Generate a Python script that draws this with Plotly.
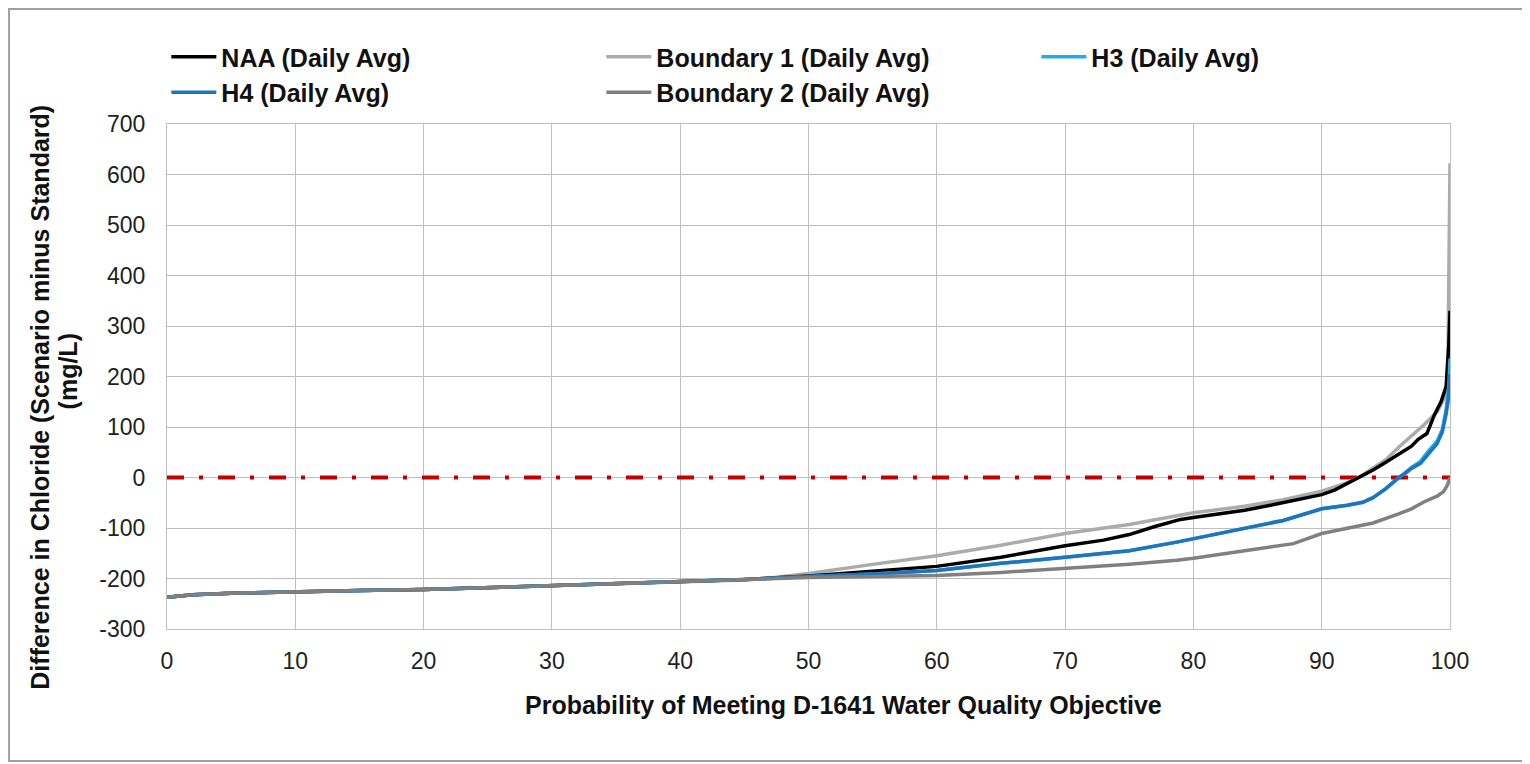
import plotly.graph_objects as go

# ---------------- data ----------------
x_labels = [0, 10, 20, 30, 40, 50, 60, 70, 80, 90, 100]
y_ticks = [-300, -200, -100, 0, 100, 200, 300, 400, 500, 600, 700]
y_tick_text = ["-300", "-200", "-100", "0", "100", "200", "300", "400", "500", "600", "700"]

early_x = [0, 2, 5, 10, 15, 20, 25, 30, 35, 40, 45]
early_y = [-237, -232, -229, -226, -224, -222, -218, -214, -210, -207, -202]

naa_x = early_x + [50, 55, 60, 65, 70, 73, 75, 77, 79, 80, 82, 84, 86, 88, 90, 91, 92, 93,
                   94, 95, 96, 97, 97.5, 98.2, 98.8, 99.3, 99.7, 99.9, 100]
naa_y = early_y + [-195, -186, -176, -158, -135, -124, -113, -97, -83, -79, -72, -65, -55, -44,
                   -34, -25, -12, 2, 15, 30, 47, 62, 75, 87, 125, 150, 180, 260, 330]

b1_x = early_x[:-1] + [45, 47, 50, 55, 60, 65, 70, 75, 80, 84, 87, 90, 92, 93, 94, 95, 96,
                       97, 98, 99, 99.4, 99.7, 99.85, 99.95, 100]
b1_y = early_y[:-1] + [-203, -199, -190, -172, -155, -134, -111, -93, -70, -57, -44, -27,
                       -10, 2, 18, 35, 60, 82, 105, 130, 150, 165, 250, 450, 622]

h3_x = early_x + [50, 55, 60, 65, 70, 75, 78.7, 80, 84, 87, 90, 92, 93.2, 94, 95, 96, 96.5,
                  97, 97.7, 98.3, 99, 99.4, 99.7, 99.9, 100]
h3_y = early_y + [-196, -191, -184, -170, -158, -145, -128, -121, -101, -85, -62, -55, -49,
                  -40, -22, 0, 10, 20, 32, 52, 72, 95, 135, 180, 235]

h4_x = early_x + [50, 55, 60, 65, 70, 75, 78.7, 80, 84, 87, 90, 92, 93.2, 94, 95, 96, 96.5,
                  97, 97.7, 98.3, 99, 99.4, 99.7, 99.9, 100]
h4_y = early_y + [-196, -191, -184, -170, -158, -145, -128, -121, -101, -85, -62, -55, -49,
                  -40, -22, 0, 8, 18, 28, 45, 67, 90, 126, 160, 205]

b2_x = early_x + [50, 55, 60, 65, 70, 75, 78.7, 80, 84, 87.8, 90, 92, 94, 96, 97, 98, 99,
                  99.5, 99.8, 100]
b2_y = early_y + [-198, -196, -194, -188, -180, -172, -164, -160, -145, -131, -111, -100,
                  -90, -72, -62, -48, -37, -28, -15, 0]

std_x = [0, 100]
std_y = [0, 0]

x_title = "Probability of Meeting D-1641 Water Quality Objective"
y_title_1 = "Difference in Chloride (Scenario minus Standard)"
y_title_2 = "(mg/L)"

# ---------------- figure ----------------
series = [
    ("Boundary 1 (Daily Avg)", b1_x, b1_y, "#ABABAB", 2),
    ("NAA (Daily Avg)", naa_x, naa_y, "#000000", 1),
    ("H3 (Daily Avg)", h3_x, h3_y, "#1EAEE6", 3),
    ("H4 (Daily Avg)", h4_x, h4_y, "#1F74BE", 4),
    ("Boundary 2 (Daily Avg)", b2_x, b2_y, "#808080", 5),
]

fig = go.Figure()
fig.add_trace(go.Scatter(x=std_x, y=std_y, mode="lines", showlegend=False,
                         line=dict(color="#C00000", width=4, dash="17px,15px,4px,15px"),
                         hoverinfo="skip"))
for name, xs, ys, col, rank in series:
    fig.add_trace(go.Scatter(x=xs, y=ys, mode="lines", name=name, legendrank=rank,
                             line=dict(color=col, width=3.5)))

font_family = "Liberation Sans, Arial, sans-serif"
title_font = dict(size=25, weight="bold", color="#111111", family=font_family)
fig.update_layout(
    width=1530, height=764,
    paper_bgcolor="white", plot_bgcolor="white",
    margin=dict(l=159, r=88, t=116, b=143),
    font=dict(family=font_family, color="#222222", size=20),
    legend=dict(orientation="h", x=-0.0005, xanchor="left", y=1.178, yanchor="top",
                entrywidth=375, entrywidthmode="pixels", traceorder="normal",
                font=dict(size=25, color="#111111", family=font_family, weight="bold"),
                itemwidth=45, tracegroupgap=0, bgcolor="rgba(0,0,0,0)"),
    xaxis=dict(range=[0, 100], tickvals=x_labels, showgrid=True, gridcolor="#BFBFBF",
               gridwidth=1, showline=True, linecolor="#BFBFBF", mirror=True, zeroline=False,
               ticks="", tickfont=dict(size=23, color="#222222"), ticklabelstandoff=11),
    yaxis=dict(range=[-300, 700], tickvals=y_ticks, ticktext=y_tick_text, showgrid=True,
               gridcolor="#BFBFBF", gridwidth=1, showline=True, linecolor="#BFBFBF",
               mirror=True, zeroline=False, ticks="",
               tickfont=dict(size=23, color="#222222"), ticklabelstandoff=16),
    annotations=[
        dict(text=x_title, xref="paper", yref="paper", x=0.527, y=-0.150,
             xanchor="center", yanchor="middle", showarrow=False, font=title_font),
        dict(text=y_title_1, xref="paper", yref="paper", x=-0.0990, y=0.460,
             xanchor="center", yanchor="middle", textangle=-90, showarrow=False,
             font=title_font),
        dict(text=y_title_2, xref="paper", yref="paper", x=-0.0772, y=0.510,
             xanchor="center", yanchor="middle", textangle=-90, showarrow=False,
             font=title_font),
    ],
    shapes=[dict(type="rect", xref="paper", yref="paper", x0=-0.1231, x1=1.0600,
                 y0=-0.2614, y1=1.2277, line=dict(color="#A0A0A0", width=2),
                 fillcolor="rgba(0,0,0,0)", layer="below")],
)

fig.write_html("out.html")
